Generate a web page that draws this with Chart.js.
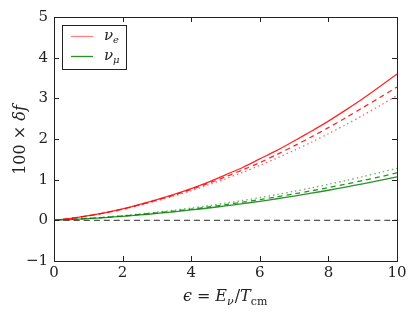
<!DOCTYPE html>
<html>
<head>
<meta charset="utf-8">
<script src="https://cdn.jsdelivr.net/npm/chart.js@4.4.1/dist/chart.umd.min.js"></script>
<style>
  html, body { margin: 0; padding: 0; background: #fff; }
  #wrap { width: 415px; height: 312px; }
</style>
</head>
<body>
<div id="wrap"><canvas id="c" width="415" height="312"></canvas></div>
<script>
// energy grid (epsilon)
const eps = [0, 0.5, 1, 1.5, 2, 2.5, 3, 3.5, 4, 4.5, 5, 5.5, 6, 6.5, 7, 7.5, 8, 8.5, 9, 9.5, 10];

// nu_e curves
const nueSolid  = [0, 0.05, 0.114, 0.19, 0.28, 0.39, 0.51, 0.64, 0.78, 0.94, 1.12, 1.30, 1.51, 1.72, 1.95, 2.19, 2.44, 2.71, 2.99, 3.29, 3.60];
const nueDashed = [0, 0.05, 0.11, 0.185, 0.275, 0.38, 0.50, 0.62, 0.76, 0.91, 1.07, 1.24, 1.42, 1.62, 1.83, 2.05, 2.28, 2.52, 2.77, 3.02, 3.28];
const nueDotted = [0, 0.05, 0.11, 0.18, 0.27, 0.37, 0.48, 0.60, 0.73, 0.87, 1.02, 1.18, 1.35, 1.53, 1.72, 1.92, 2.13, 2.35, 2.58, 2.82, 3.07];

// nu_mu curves
const numSolid  = [0, 0.019, 0.042, 0.068, 0.098, 0.132, 0.169, 0.21, 0.255, 0.303, 0.354, 0.41, 0.468, 0.531, 0.597, 0.667, 0.74, 0.817, 0.898, 0.982, 1.07];
const numDashed = [0, 0.021, 0.045, 0.074, 0.106, 0.143, 0.184, 0.228, 0.276, 0.329, 0.385, 0.446, 0.51, 0.578, 0.65, 0.726, 0.806, 0.89, 0.978, 1.07, 1.165];
const numDotted = [0, 0.023, 0.05, 0.081, 0.117, 0.157, 0.201, 0.25, 0.303, 0.361, 0.423, 0.489, 0.559, 0.634, 0.713, 0.797, 0.885, 0.977, 1.074, 1.175, 1.28];

// zero reference
const zeroX = [0, 10];
const zeroY = [0, 0];

const xTicks = [0, 2, 4, 6, 8, 10];
const yTicks = [-1, 0, 1, 2, 3, 4, 5];

const RED = "rgba(255,0,0,0.85)";
const RED_LIGHT = "rgba(255,0,0,0.6)";
const GREEN = "rgba(0,128,0,0.85)";
const GREEN_LIGHT = "rgba(0,128,0,0.6)";
const SERIF = "DejaVu Serif";

function pts(xs, ys) {
    return xs.map((x, i) => ({ x: x, y: ys[i] }));
}

function line(data, color, dash) {
    return {
        data: data,
        borderColor: color,
        borderWidth: 1.3,
        borderDash: dash,
        pointRadius: 0,
        tension: 0.3,
        fill: false
    };
}

function f(style, size) {
    return style + " " + size + "px \"" + SERIF + "\"";
}

const frame = {
    id: "frame",
    afterDraw(chart) {
        const ctx = chart.ctx;
        const a = chart.chartArea;
        const xs = chart.scales.x;
        const ys = chart.scales.y;
        ctx.save();
        ctx.strokeStyle = "#222";
        ctx.lineWidth = 1;
        ctx.strokeRect(Math.round(a.left) + 0.5, Math.round(a.top) + 0.5,
            Math.round(a.right - a.left), Math.round(a.bottom - a.top));

        // inward ticks on all sides
        ctx.beginPath();
        xTicks.forEach(v => {
            const px = Math.round(xs.getPixelForValue(v)) + 0.5;
            ctx.moveTo(px, a.bottom); ctx.lineTo(px, a.bottom - 5);
            ctx.moveTo(px, a.top); ctx.lineTo(px, a.top + 5);
        });
        yTicks.forEach(v => {
            const py = Math.round(ys.getPixelForValue(v)) + 0.5;
            ctx.moveTo(a.left, py); ctx.lineTo(a.left + 5, py);
            ctx.moveTo(a.right, py); ctx.lineTo(a.right - 5, py);
        });
        ctx.stroke();

        // legend
        ctx.fillStyle = "#fff";
        ctx.fillRect(62, 25, 65, 45);
        ctx.strokeStyle = "#222";
        ctx.strokeRect(62.5, 25.5, 64, 44);
        ctx.lineWidth = 1.3;
        ctx.strokeStyle = "rgba(255,0,0,0.5)";
        ctx.beginPath(); ctx.moveTo(71, 36.5); ctx.lineTo(93, 36.5); ctx.stroke();
        ctx.strokeStyle = GREEN;
        ctx.beginPath(); ctx.moveTo(71, 56.5); ctx.lineTo(93, 56.5); ctx.stroke();
        ctx.fillStyle = "#222";
        ctx.textBaseline = "alphabetic";
        ctx.textAlign = "left";
        ctx.font = f("italic", 15);
        ctx.fillText("ν", 104, 40);
        ctx.fillText("ν", 104, 60);
        ctx.font = f("italic", 10);
        ctx.fillText("e", 113, 43);
        ctx.fillText("μ", 113, 63);

        // x axis title: ϵ = E_ν/T_cm
        let x = 183;
        const yb = 301;
        ctx.font = f("italic", 16);
        ctx.fillText("ϵ", x, yb); x += ctx.measureText("ϵ").width + 5;
        ctx.font = f("normal", 16);
        ctx.fillText("=", x, yb); x += ctx.measureText("=").width + 5;
        ctx.font = f("italic", 16);
        ctx.fillText("E", x, yb); x += ctx.measureText("E").width;
        ctx.font = f("italic", 11);
        ctx.fillText("ν", x, yb + 4); x += ctx.measureText("ν").width + 1;
        ctx.font = f("normal", 16);
        ctx.fillText("/", x, yb); x += ctx.measureText("/").width;
        ctx.font = f("italic", 16);
        ctx.fillText("T", x, yb); x += ctx.measureText("T").width;
        ctx.font = f("normal", 11);
        ctx.fillText("cm", x, yb + 4);

        // y axis title: 100 × δf
        ctx.translate(25, 140);
        ctx.rotate(-Math.PI / 2);
        ctx.font = f("normal", 16);
        const t1 = "100 × ";
        const w1 = ctx.measureText(t1).width;
        ctx.font = f("italic", 16);
        const w2 = ctx.measureText("δf").width;
        const start = -(w1 + w2) / 2;
        ctx.font = f("normal", 16);
        ctx.fillText(t1, start, 0);
        ctx.font = f("italic", 16);
        ctx.fillText("δf", start + w1, 0);
        ctx.restore();
    }
};

new Chart(document.getElementById("c"), {
    type: "line",
    data: {
        datasets: [
            line(pts(zeroX, zeroY), "#555", [6, 4]),
            line(pts(eps, nueDotted), RED_LIGHT, [1.5, 3]),
            line(pts(eps, nueDashed), RED, [5, 4]),
            line(pts(eps, nueSolid), RED, []),
            line(pts(eps, numDotted), GREEN_LIGHT, [1.5, 3]),
            line(pts(eps, numDashed), GREEN, [5, 4]),
            line(pts(eps, numSolid), GREEN, [])
        ]
    },
    options: {
        responsive: false,
        animation: false,
        events: [],
        layout: { padding: { top: 17, right: 18, left: 0, bottom: 0 } },
        plugins: {
            legend: { display: false },
            tooltip: { enabled: false }
        },
        scales: {
            x: {
                type: "linear",
                min: 0,
                max: 10,
                afterBuildTicks: s => { s.ticks = xTicks.map(v => ({ value: v })); },
                afterFit: s => { s.height = 51; },
                grid: { display: false, drawTicks: false },
                border: { display: false },
                ticks: {
                    color: "#222",
                    padding: 3,
                    maxRotation: 0,
                    font: { family: SERIF, size: 15 }
                }
            },
            y: {
                type: "linear",
                min: -1,
                max: 5,
                afterBuildTicks: s => { s.ticks = yTicks.map(v => ({ value: v })); },
                afterFit: s => { s.width = 54; },
                grid: { display: false, drawTicks: false },
                border: { display: false },
                ticks: {
                    color: "#222",
                    padding: 6,
                    font: { family: SERIF, size: 15 },
                    callback: v => String(v).replace("-", "\u2212")
                }
            }
        }
    },
    plugins: [frame]
});
</script>
</body>
</html>
